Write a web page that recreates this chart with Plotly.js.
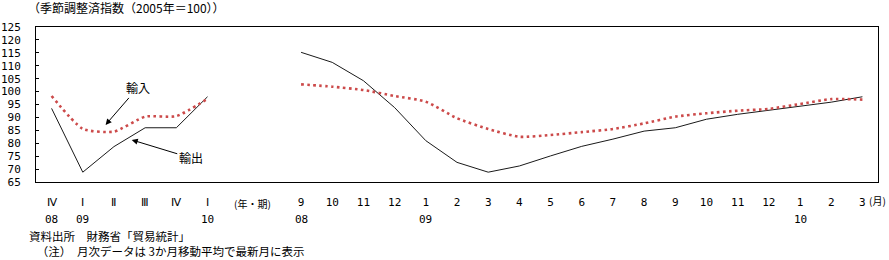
<!DOCTYPE html>
<html>
<head>
<meta charset="utf-8">
<script src="https://cdn.plot.ly/plotly-3.0.1.min.js"></script>
<style>
html,body{margin:0;padding:0;background:#fff;}
#chart{width:889px;height:260px;}
</style>
</head>
<body>
<div id="chart"></div>
<script>
// category slots: quarterly 0..5, gap 6..7, monthly 8..26
const qPos = [0, 1, 2, 3, 4, 5];
const qLabels = ["Ⅳ", "Ⅰ", "Ⅱ", "Ⅲ", "Ⅳ", "Ⅰ"];
const qYears = ["08", "09", "", "", "", "10"];
const qExports = [93.5, 68.8, 78.7, 86.0, 86.0, 98.0];
const qImports = [98.3, 85.6, 84.5, 90.3, 90.5, 97.2];

const mPos = [8, 9, 10, 11, 12, 13, 14, 15, 16, 17, 18, 19, 20, 21, 22, 23, 24, 25, 26];
const mLabels = ["9", "10", "11", "12", "1", "2", "3", "4", "5", "6", "7", "8", "9", "10", "11", "12", "1", "2", "3"];
const mYears = ["08", "", "", "", "09", "", "", "", "", "", "", "", "", "", "", "", "10", "", ""];
const mExports = [115.2, 111.3, 104.2, 93.8, 81.0, 72.6, 68.8, 71.2, 75.1, 78.8, 81.6, 84.7, 86.0, 89.3, 91.2, 92.7, 94.2, 95.9, 98.0];
const mImports = [102.8, 101.9, 100.6, 98.3, 96.1, 89.7, 85.5, 82.5, 83.2, 84.3, 85.5, 87.7, 90.3, 91.6, 92.6, 93.3, 95.2, 97.1, 96.9];

const yTicks = [65, 70, 75, 80, 85, 90, 95, 100, 105, 110, 115, 120, 125];

const titleText = "（季節調整済指数（2005年＝100））";
const sourceText = "資料出所　財務省「貿易統計」";
const noteText = "（注）　月次データは 3か月移動平均で最新月に表示";
const importLabel = "輸入";
const exportLabel = "輸出";
const periodUnit = "(年・期)";
const monthUnit = "(月)";

const exportColor = "#1a1a1a";
const importColor = "#cc4a4a";
const jp = "'Noto Sans CJK JP', sans-serif";
const mono = "'DejaVu Sans Mono', 'Liberation Mono', monospace";

const dotLine = {color: importColor, width: 2.6, dash: "2.6px,3.4px", shape: "spline", smoothing: 0.6};
const traces = [
  {x: qPos, y: qExports, type: "scatter", mode: "lines", line: {color: exportColor, width: 1}, hoverinfo: "skip"},
  {x: qPos, y: qImports, type: "scatter", mode: "lines", line: dotLine, hoverinfo: "skip"},
  {x: mPos, y: mExports, type: "scatter", mode: "lines", line: {color: exportColor, width: 1}, hoverinfo: "skip"},
  {x: mPos, y: mImports, type: "scatter", mode: "lines", line: dotLine, hoverinfo: "skip"}
];

const allPos = qPos.concat(mPos);
const allLabels = qLabels.concat(mLabels);
const allYears = qYears.concat(mYears);

const annotations = [];
allPos.forEach((p, i) => {
  if (allYears[i]) {
    annotations.push({x: p, xref: "x", y: -0.245, yref: "paper", text: allYears[i], showarrow: false,
      font: {family: mono, size: 11, color: "#000"}, xanchor: "center", yanchor: "middle"});
  }
});
annotations.push(
  {x: 6.45, xref: "x", y: -0.14, yref: "paper", text: periodUnit, showarrow: false,
   font: {family: jp, size: 10, color: "#000"}, xanchor: "center", yanchor: "middle"},
  {x: (888 - 36) / 842, xref: "paper", y: -0.118, yref: "paper", text: monthUnit, showarrow: false,
   font: {family: jp, size: 10, color: "#000"}, xanchor: "right", yanchor: "middle"},
  {x: 1.73, y: 87.1, xref: "x", yref: "y", text: importLabel, showarrow: true, ax: 32, ay: -37,
   arrowhead: 2, arrowsize: 1.2, arrowwidth: 1, arrowcolor: "#000", standoff: 0,
   font: {family: jp, size: 12, color: "#000"}},
  {x: 2.57, y: 81.3, xref: "x", yref: "y", text: exportLabel, showarrow: true, ax: 59, ay: 18,
   arrowhead: 2, arrowsize: 1.2, arrowwidth: 1, arrowcolor: "#000", standoff: 0,
   font: {family: jp, size: 12, color: "#000"}},
  {x: (27 - 36) / 842, xref: "paper", xanchor: "left", y: -44 / 155, yref: "paper", yanchor: "top",
   align: "left", text: sourceText + "<br>\u00a0\u00a0\u00a0" + noteText, showarrow: false,
   font: {family: jp, size: 11.5, color: "#000"}}
);

const layout = {
  width: 889, height: 260,
  margin: {l: 36, r: 11, t: 27, b: 78, pad: 0},
  paper_bgcolor: "#fff", plot_bgcolor: "#fff",
  showlegend: false,
  font: {family: jp, size: 11, color: "#000"},
  title: {text: titleText, x: 28 / 889, xanchor: "left", y: 1 - 9 / 260, yanchor: "middle",
          font: {family: jp, size: 12, color: "#000"}},
  xaxis: {
    range: [-0.5, 26.5], tickmode: "array", tickvals: allPos, ticktext: allLabels,
    showgrid: false, zeroline: false, showline: true, linecolor: "#000", linewidth: 1, mirror: true,
    ticks: "", tickfont: {family: mono, size: 11, color: "#000"}, ticklabelstandoff: 10, fixedrange: true
  },
  yaxis: {
    range: [65, 125], tickmode: "array", tickvals: yTicks, ticktext: yTicks.map(String),
    showgrid: false, zeroline: false, showline: true, linecolor: "#000", linewidth: 1, mirror: true,
    ticks: "inside", ticklen: 3, tickcolor: "#000", tickwidth: 1,
    tickfont: {family: mono, size: 11, color: "#000"}, ticklabelstandoff: 12, fixedrange: true
  },
  annotations: annotations
};

Plotly.newPlot("chart", traces, layout, {staticPlot: true, displayModeBar: false});
</script>
</body>
</html>
